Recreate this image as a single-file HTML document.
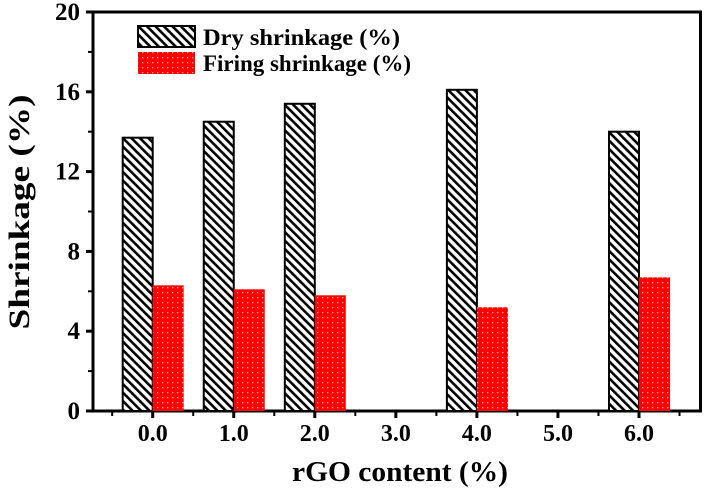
<!DOCTYPE html>
<html><head><meta charset="utf-8"><style>
html,body{margin:0;padding:0;background:#fff}
svg{display:block;font-family:"Liberation Serif",serif;font-weight:bold}
</style></head><body>
<svg width="707" height="494" viewBox="0 0 707 494">
<defs>
<pattern id="hatch" patternUnits="userSpaceOnUse" width="6" height="6" patternTransform="rotate(-45)">
<rect width="6" height="6" fill="#fff"/><rect x="0" y="0" width="2.6" height="6" fill="#000"/>
</pattern>
<pattern id="dots" patternUnits="userSpaceOnUse" width="5" height="5">
<rect width="5" height="5" fill="#ff0000"/><rect x="2" y="2" width="1.3" height="1.3" fill="#ffb0b0"/>
</pattern>
</defs>
<g id="axes"></g>
<g id="bars"></g>
<g>
<rect x="138" y="26" width="57" height="21" fill="url(#hatch)" stroke="#000" stroke-width="2"/>
<text x="203" y="45" font-size="23" textLength="197" lengthAdjust="spacingAndGlyphs">Dry shrinkage (%)</text>
<rect x="138" y="52" width="57" height="22" fill="url(#dots)"/>
<text x="203" y="71" font-size="23" textLength="208" lengthAdjust="spacingAndGlyphs">Firing shrinkage (%)</text>
</g>
<text x="400" y="481" font-size="29" text-anchor="middle" textLength="216" lengthAdjust="spacingAndGlyphs">rGO content (%)</text>
<text transform="translate(29,212) rotate(-90)" font-size="30" text-anchor="middle" textLength="235" lengthAdjust="spacingAndGlyphs">Shrinkage (%)</text>
</svg>
<script>
const categories = [0, 1, 2, 4, 6];
const dryValues = [13.7, 14.5, 15.4, 16.1, 14.0];
const firingValues = [6.3, 6.1, 5.8, 5.2, 6.7];
const xTickLabels = ["0.0","1.0","2.0","3.0","4.0","5.0","6.0"];
const yTickValues = [0, 4, 8, 12, 16, 20];

const NS = "http://www.w3.org/2000/svg";
const x = c => 152.7 + 81.05 * c;
const y = v => 411 - 19.95 * v;
const axes = document.getElementById("axes");
const bars = document.getElementById("bars");
function mk(tag, attrs, parent, txt){
  const e = document.createElementNS(NS, tag);
  for (const k in attrs) e.setAttribute(k, attrs[k]);
  if (txt !== undefined) e.textContent = txt;
  parent.appendChild(e);
  return e;
}
categories.forEach((c, i) => {
  const d = mk("rect", {x: x(c) - 30, y: y(dryValues[i]), width: 30, height: y(0) - y(dryValues[i]), fill: "url(#hatch)", stroke: "#000", "stroke-width": 2}, bars);
  
  
  const f = mk("rect", {x: x(c), y: y(firingValues[i]), width: 31, height: y(0) - y(firingValues[i]), fill: "url(#dots)"}, bars);
  
  
});
const frame = mk("path", {d: "M93,12 H700.5 V411 H93 Z", fill: "none", stroke: "#000", "stroke-width": 3}, axes);


yTickValues.forEach(v => {
  mk("line", {x1: 86, x2: 93, y1: y(v), y2: y(v), stroke: "#000", "stroke-width": 3}, axes);
  if (v < 20) mk("line", {x1: 88, x2: 93, y1: y(v + 2), y2: y(v + 2), stroke: "#000", "stroke-width": 2}, axes);
  const t = mk("text", {x: 80, y: y(v) + 8, "font-size": 25, "text-anchor": "end"}, axes, String(v));
  
  
});
xTickLabels.forEach((lab, i) => {
  mk("line", {x1: x(i), x2: x(i), y1: 411, y2: 418, stroke: "#000", "stroke-width": 3}, axes);
  mk("line", {x1: x(i - 0.5), x2: x(i - 0.5), y1: 411, y2: 416, stroke: "#000", "stroke-width": 2}, axes);
  const t = mk("text", {x: x(i), y: 441, "font-size": 24, "text-anchor": "middle"}, axes, lab);
  
  
});
mk("line", {x1: x(6.5), x2: x(6.5), y1: 411, y2: 416, stroke: "#000", "stroke-width": 2}, axes);
</script>
</body></html>
